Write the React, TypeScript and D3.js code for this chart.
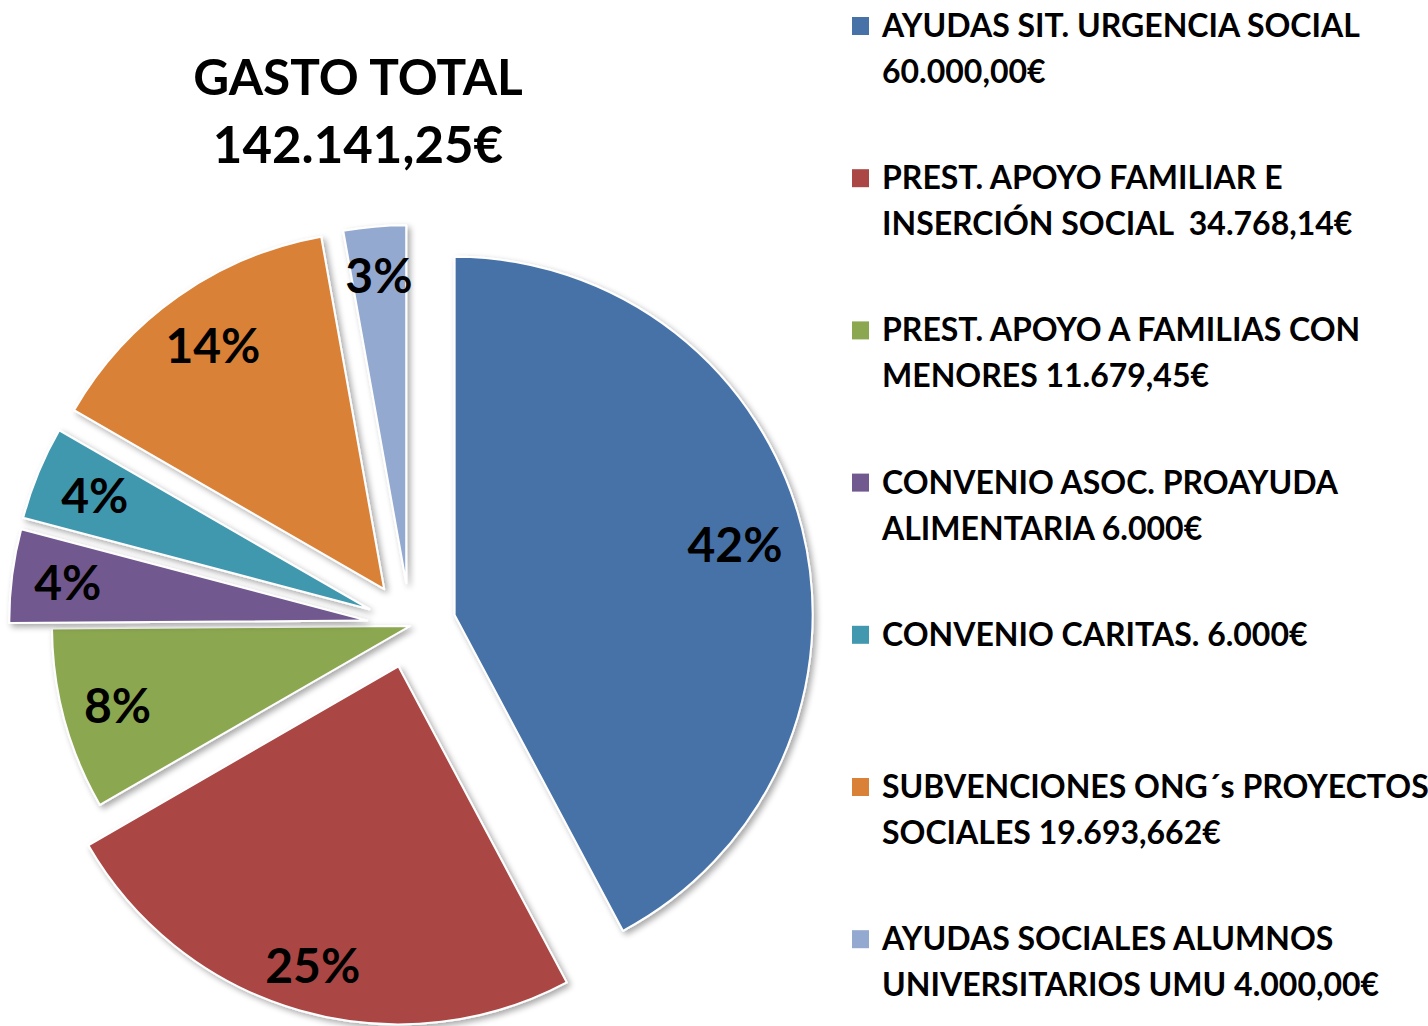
import React from "react";
import * as d3 from "d3";

const categories = [
  "AYUDAS SIT. URGENCIA SOCIAL",
  "PREST. APOYO FAMILIAR E INSERCIÓN SOCIAL",
  "PREST. APOYO A FAMILIAS CON MENORES",
  "CONVENIO ASOC. PROAYUDA ALIMENTARIA",
  "CONVENIO CARITAS.",
  "SUBVENCIONES ONG´s PROYECTOS SOCIALES",
  "AYUDAS SOCIALES ALUMNOS UNIVERSITARIOS UMU",
];
const values = [60000, 34768.14, 11679.45, 6000, 6000, 19693.66, 4000];
const percentLabels = ["42%", "25%", "8%", "4%", "4%", "14%", "3%"];
const legendLines: string[][] = [
  ["AYUDAS SIT. URGENCIA SOCIAL", "60.000,00€"],
  ["PREST. APOYO FAMILIAR E", "INSERCIÓN SOCIAL  34.768,14€"],
  ["PREST. APOYO A FAMILIAS CON", "MENORES 11.679,45€"],
  ["CONVENIO ASOC. PROAYUDA", "ALIMENTARIA 6.000€"],
  ["CONVENIO CARITAS. 6.000€"],
  ["SUBVENCIONES ONG´s PROYECTOS", "SOCIALES 19.693,662€"],
  ["AYUDAS SOCIALES ALUMNOS", "UNIVERSITARIOS UMU 4.000,00€"],
];
const titleLines = ["GASTO TOTAL", "142.141,25€"];

const colors = ["#4672A8", "#AA4644", "#8BA74F", "#71588F", "#4198AF", "#DA8138", "#93A9CF"];
const explode = [46, 42, 0, 43, 44, 45, 43];
const labelRadius = [289, 311, 303, 302, 297, 298, 309];

const FONT = "Lato, 'Open Sans', sans-serif";

export default function App() {
  const W = 1428, H = 1026;
  const cx = 410, cy = 626, R = 358;
  const pie = d3.pie<number>().sort(null).startAngle(0).endAngle(2 * Math.PI);
  const arcs = pie(values);
  const arc = d3.arc<d3.PieArcDatum<number>>().innerRadius(0).outerRadius(R);

  return (
    <svg width={W} height={H} style={{ position: "absolute", left: 0, top: 0, background: "#fff" }}>
      <defs>
        <filter id="shadow" x="-20%" y="-20%" width="140%" height="140%">
          <feGaussianBlur in="SourceAlpha" stdDeviation="3" />
          <feOffset dx="3" dy="3" result="ob" />
          <feComponentTransfer>
            <feFuncA type="linear" slope="0.35" />
          </feComponentTransfer>
          <feMerge>
            <feMergeNode />
            <feMergeNode in="SourceGraphic" />
          </feMerge>
        </filter>
      </defs>
      <g transform={`translate(${cx},${cy})`}>
        {arcs.map((a, i) => {
          const mid = (a.startAngle + a.endAngle) / 2;
          const dx = Math.sin(mid) * explode[i];
          const dy = -Math.cos(mid) * explode[i];
          return (
            <g key={i} transform={`translate(${dx},${dy})`}>
              <path d={arc(a) || ""} fill={colors[i]} stroke="#fff" strokeWidth={2} strokeLinejoin="round" filter="url(#shadow)" />
            </g>
          );
        })}
        {arcs.map((a, i) => {
          const mid = (a.startAngle + a.endAngle) / 2;
          const r = labelRadius[i];
          const d = explode[i];
          const x = Math.sin(mid) * (r + d);
          const y = -Math.cos(mid) * (r + d);
          return (
            <text key={"l" + i} x={x} y={y} dy="0.36em" textAnchor="middle" fontFamily={FONT} fontWeight={700} fontSize={48} fill="#000">
              {percentLabels[i]}
            </text>
          );
        })}
      </g>
      <g fontFamily={FONT} fontWeight={700} fill="#000" textAnchor="middle">
        <text x={358} y={95} fontSize={49.5}>{titleLines[0]}</text>
        <text x={358} y={163} fontSize={51}>{titleLines[1]}</text>
      </g>
      <g fontFamily={FONT} fontWeight={700} fill="#000">
        {legendLines.map((lines, i) => {
          const base = 37 + i * 152.2;
          return (
            <g key={"lg" + i}>
              <rect x={852} y={base - 20} width={17} height={18} fill={colors[i]} />
              {lines.map((t, j) => (
                <text key={j} x={882} y={base + j * 46} fontSize={32} style={{ whiteSpace: "pre" }}>{t}</text>
              ))}
            </g>
          );
        })}
      </g>
    </svg>
  );
}
